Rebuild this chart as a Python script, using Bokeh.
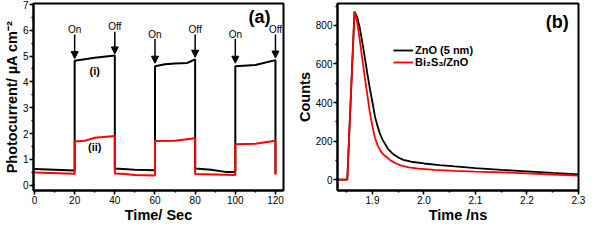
from bokeh.plotting import figure
from bokeh.layouts import row
from bokeh.models import (ColumnDataSource, Arrow, NormalHead, Legend, LegendItem,
                          SingleIntervalTicker, Range1d, PrintfTickFormatter)
from bokeh.embed import file_html
from bokeh.resources import INLINE
from bokeh.core.properties import value

FONT = "Liberation Sans"

# ---------------- Panel (a) data ----------------
t_i = [0, 20, 20, 30, 40, 40, 50, 60, 60, 65, 70, 76, 80, 80, 88, 95, 100, 100, 110, 120, 120]
photo_i = [0.63, 0.57, 4.82, 4.93, 5.02, 0.65, 0.60, 0.58, 4.60, 4.68, 4.71, 4.73, 4.87,
           0.65, 0.60, 0.52, 0.52, 4.60, 4.65, 4.84, 0.45]
t_ii = [0, 20, 20, 25, 30, 40, 40, 45, 50, 60, 60, 70, 80, 80, 90, 100, 100, 110, 120, 120]
photo_ii = [0.50, 0.45, 1.69, 1.72, 1.84, 1.91, 0.46, 0.44, 0.40, 0.38, 1.71, 1.72, 1.82,
            0.44, 0.42, 0.40, 1.59, 1.61, 1.72, 0.42]

switch_t = [20, 40, 60, 80, 100, 120]
switch_label = ["On", "Off", "On", "Off", "On", "Off"]
switch_text_y = [6.03, 6.14, 5.85, 6.03, 5.85, 6.03]
arrow_y_start = [5.83, 5.94, 5.66, 5.83, 5.66, 5.83]
arrow_y_end = [4.90, 5.08, 4.72, 4.95, 4.72, 4.92]

# ---------------- Panel (b) data ----------------
t_zno = [1.832, 1.851, 1.865, 1.870, 1.875, 1.880, 1.885, 1.890, 1.895, 1.900, 1.905,
         1.910, 1.915, 1.920, 1.930, 1.940, 1.950, 1.960, 1.975, 2.000, 2.030, 2.060,
         2.100, 2.150, 2.200, 2.250, 2.300]
counts_zno = [0, 0, 870, 845, 790, 715, 635, 550, 470, 400, 325, 275, 235, 205, 160, 133,
              115, 103, 93, 84, 76, 69, 60, 51, 43, 35, 28]
t_bi = [1.832, 1.851, 1.865, 1.870, 1.875, 1.880, 1.885, 1.890, 1.895, 1.900, 1.905,
        1.910, 1.915, 1.920, 1.926, 1.935, 1.945, 1.955, 1.970, 1.990, 2.020, 2.060,
        2.100, 2.150, 2.200, 2.250, 2.300]
counts_bi = [0, 0, 870, 820, 730, 630, 530, 440, 345, 275, 215, 178, 152, 133, 120, 100,
             85, 74, 64, 57, 51, 46, 42, 38, 33, 27, 21]


def style(p, xint, yint):
    p.outline_line_color = "black"
    p.outline_line_width = 2
    p.xgrid.visible = False
    p.ygrid.visible = False
    p.xaxis.ticker = SingleIntervalTicker(interval=xint, num_minor_ticks=2)
    p.yaxis.ticker = SingleIntervalTicker(interval=yint, num_minor_ticks=2)
    for ax in (p.xaxis, p.yaxis):
        ax.axis_line_width = 2
        ax.axis_line_color = "black"
        ax.major_tick_out = 4
        ax.major_tick_in = 0
        ax.minor_tick_out = 2
        ax.minor_tick_in = 0
        ax.major_tick_line_width = 1.5
        ax.minor_tick_line_width = 1.5
        ax.major_label_text_font = FONT
        ax.major_label_text_font_size = "10px"
        ax.major_label_text_color = "black"
        ax.major_label_text_line_height = 1.0
        ax.major_label_standoff = 1
        ax.axis_label_text_font = FONT
        ax.axis_label_text_font_size = "14.5px"
        ax.axis_label_text_font_style = "bold"
        ax.axis_label_text_color = "black"
        ax.axis_label_text_line_height = 1.0
        ax.axis_label_standoff = 0


# ---------------- Panel (a) ----------------
pa = figure(width=293, height=225, output_backend="svg", toolbar_location=None,
            x_range=Range1d(-0.5, 124), y_range=Range1d(-0.2, 7.03),
            min_border_left=5, min_border_right=10, min_border_top=3, min_border_bottom=0)
style(pa, 20, 1)
pa.xaxis.axis_label = "Time/ Sec"
pa.yaxis.axis_label = "Photocurrent/ \u00b5A cm\u207b\u00b2"

pa.line(t_i, photo_i, line_color="black", line_width=2)
pa.line(t_ii, photo_ii, line_color="#ff0000", line_width=2)

arr_src = ColumnDataSource(dict(x=switch_t, y0=arrow_y_start, y1=arrow_y_end))
pa.add_layout(Arrow(end=NormalHead(size=7, fill_color="black", line_color="black", line_width=1),
                    x_start="x", y_start="y0", x_end="x", y_end="y1",
                    line_width=1.5, line_color="black", source=arr_src))
pa.text(x=switch_t, y=switch_text_y, text=switch_label, text_font=value(FONT),
        text_font_size="10px", text_align="center", text_baseline="middle", text_color="black")
pa.text(x=[30, 30], y=[4.42, 1.49], text=["(i)", "(ii)"], text_font=value(FONT),
        text_font_size="11px", text_font_style="bold", text_align="center",
        text_baseline="middle", text_color="black")
pa.text(x=[112], y=[6.5], text=["(a)"], text_font=value(FONT), text_font_size="18px",
        text_font_style="bold", text_align="center", text_baseline="middle", text_color="black")

# ---------------- Panel (b) ----------------
pb = figure(width=293, height=225, output_backend="svg", toolbar_location=None,
            x_range=Range1d(1.832, 2.3002), y_range=Range1d(-56, 913),
            min_border_left=5, min_border_right=8, min_border_top=3, min_border_bottom=0)
style(pb, 0.1, 200)
pb.xaxis.formatter = PrintfTickFormatter(format="%.1f")
pb.xaxis.axis_label = "Time /ns"
pb.yaxis.axis_label = "Counts"

r1 = pb.line(t_zno, counts_zno, line_color="black", line_width=1.8)
r2 = pb.line(t_bi, counts_bi, line_color="#ff0000", line_width=1.8)
pb.text(x=[2.259], y=[819], text=["(b)"], text_font=value(FONT), text_font_size="18px",
        text_font_style="bold", text_align="center", text_baseline="middle", text_color="black")

legend = Legend(items=[LegendItem(label="ZnO (5 nm)", renderers=[r1]),
                       LegendItem(label="Bi\u2082S\u2083/ZnO", renderers=[r2])],
                location=(56, 122), orientation="vertical")
legend.label_text_font = FONT
legend.label_text_font_size = "11px"
legend.label_text_font_style = "bold"
legend.label_text_color = "black"
legend.glyph_width = 20
legend.glyph_height = 12
legend.label_height = 12
legend.label_standoff = 2
legend.spacing = 0
legend.padding = 0
legend.margin = 0
legend.border_line_alpha = 0
legend.background_fill_alpha = 0
pb.add_layout(legend)

layout = row(pa, pb)
open("out.html", "w").write(file_html(layout, INLINE))
